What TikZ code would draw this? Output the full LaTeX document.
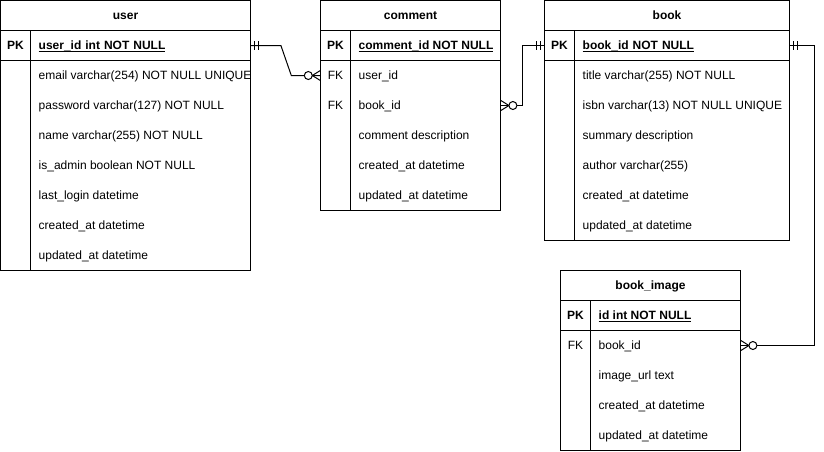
\documentclass[tikz,border=0pt]{standalone}
\usepackage{fontspec}
\setmainfont{Liberation Sans}
\newcommand{\keyline}[1]{{\setbox0\hbox{#1}\rlap{\rule[-2.5pt]{\wd0}{0.8pt}}\box0}}
\tikzset{
    tbl/.style={line width=1pt, draw=black},
    txt/.style={font=\fontsize{12}{14}\selectfont, text height=9pt, text depth=1pt},
    title/.style={txt, font=\fontsize{12}{14}\selectfont\bfseries, inner sep=0pt},
    key/.style={txt, inner sep=0pt, minimum width=30pt, minimum height=30pt},
    field/.style={txt, anchor=west, inner xsep=8pt, inner ysep=0pt,
        minimum height=30pt, execute at begin node=\hbox\bgroup, execute at end node=\egroup},
    link/.style={line width=1pt},
    one/.pic={\draw[line width=1pt] (4*#1,-4.5)--(4*#1,4.5) (8*#1,-4.5)--(8*#1,4.5);},
    zmany/.pic={\draw[line width=1pt] (8*#1,0)--(0,-5) (8*#1,0)--(0,5);
        \draw[line width=1pt,fill=white] (12*#1,0) circle (4);}
}
\begin{document}
\begin{tikzpicture}[x=1pt,y=-1pt]
\useasboundingbox (-0.5,-0.5) rectangle (823.5,450.5);
% user
\draw[tbl] (0,0) rectangle (250,270);
\draw[tbl] (0,30)--(250,30) (0,60)--(250,60) (30,30)--(30,270);
\node[title] (user) at (125,15) {user};
\node[key,font=\fontsize{12}{14}\selectfont\bfseries] (user-pk) at (15,45) {PK};
\node[field,text width=204pt,font=\fontsize{12}{14}\selectfont\bfseries] (user-id) at (30,45) {\keyline{user\_id int NOT NULL}};
\node[field] (user-email) at (30,75) {email varchar(254) NOT NULL UNIQUE};
\node[field] (user-pass) at (30,105) {password varchar(127) NOT NULL};
\node[field] (user-name) at (30,135) {name varchar(255) NOT NULL};
\node[field] (user-admin) at (30,165) {is\_admin boolean NOT NULL};
\node[field] (user-login) at (30,195) {last\_login datetime};
\node[field] (user-created) at (30,225) {created\_at datetime};
\node[field] (user-updated) at (30,255) {updated\_at datetime};
% comment
\draw[tbl] (320,0) rectangle (500,210);
\draw[tbl] (320,30)--(500,30) (320,60)--(500,60) (350,30)--(350,210);
\node[title] (comment) at (410,15) {comment};
\node[key,font=\fontsize{12}{14}\selectfont\bfseries] (comment-pk) at (335,45) {PK};
\node[key] (comment-fk1) at (335,75) {FK};
\node[key] (comment-fk2) at (335,105) {FK};
\node[field,font=\fontsize{12}{14}\selectfont\bfseries] (comment-id) at (350,45) {\keyline{comment\_id NOT NULL}};
\node[field] (comment-uid) at (350,75) {user\_id};
\node[field,text width=134pt] (comment-bid) at (350,105) {book\_id};
\node[field] (comment-desc) at (350,135) {comment description};
\node[field] (comment-created) at (350,165) {created\_at datetime};
\node[field] (comment-updated) at (350,195) {updated\_at datetime};
% book
\draw[tbl] (544,0) rectangle (789,240);
\draw[tbl] (544,30)--(789,30) (544,60)--(789,60) (574,30)--(574,240);
\node[title] (book) at (666.5,15) {book};
\node[key,font=\fontsize{12}{14}\selectfont\bfseries] (book-pk) at (559,45) {PK};
\node[field,text width=199pt,font=\fontsize{12}{14}\selectfont\bfseries] (book-id) at (574,45) {\keyline{book\_id NOT NULL}};
\node[field] (book-title) at (574,75) {title varchar(255) NOT NULL};
\node[field] (book-isbn) at (574,105) {isbn varchar(13) NOT NULL UNIQUE};
\node[field] (book-summary) at (574,135) {summary description};
\node[field] (book-author) at (574,165) {author varchar(255)};
\node[field] (book-created) at (574,195) {created\_at datetime};
\node[field] (book-updated) at (574,225) {updated\_at datetime};
% book_image
\draw[tbl] (560,270) rectangle (740,450);
\draw[tbl] (560,300)--(740,300) (560,330)--(740,330) (590,300)--(590,450);
\node[title] (img) at (650,285) {book\_image};
\node[key,font=\fontsize{12}{14}\selectfont\bfseries] (img-pk) at (575,315) {PK};
\node[key] (img-fk) at (575,345) {FK};
\node[field,font=\fontsize{12}{14}\selectfont\bfseries] (img-id) at (590,315) {\keyline{id int NOT NULL}};
\node[field,text width=134pt] (img-bid) at (590,345) {book\_id};
\node[field] (img-url) at (590,375) {image\_url text};
\node[field] (img-created) at (590,405) {created\_at datetime};
\node[field] (img-updated) at (590,435) {updated\_at datetime};
% relations
\draw[link] (user-id.east) -- ++(30,0) -- ([xshift=-29pt]comment-fk1.west) -- (comment-fk1.west);
\draw[link] (comment-bid.east) -- ++(22,0) |- (book-pk.west);
\draw[link] (book-id.east) -- ++(25,0) |- (img-bid.east);
\pic at (user-id.east) {one=1};
\pic at (comment-fk1.west) {zmany=-1};
\pic at (comment-bid.east) {zmany=1};
\pic at (book-pk.west) {one=-1};
\pic at (book-id.east) {one=1};
\pic at (img-bid.east) {zmany=1};
\end{tikzpicture}
\end{document}
